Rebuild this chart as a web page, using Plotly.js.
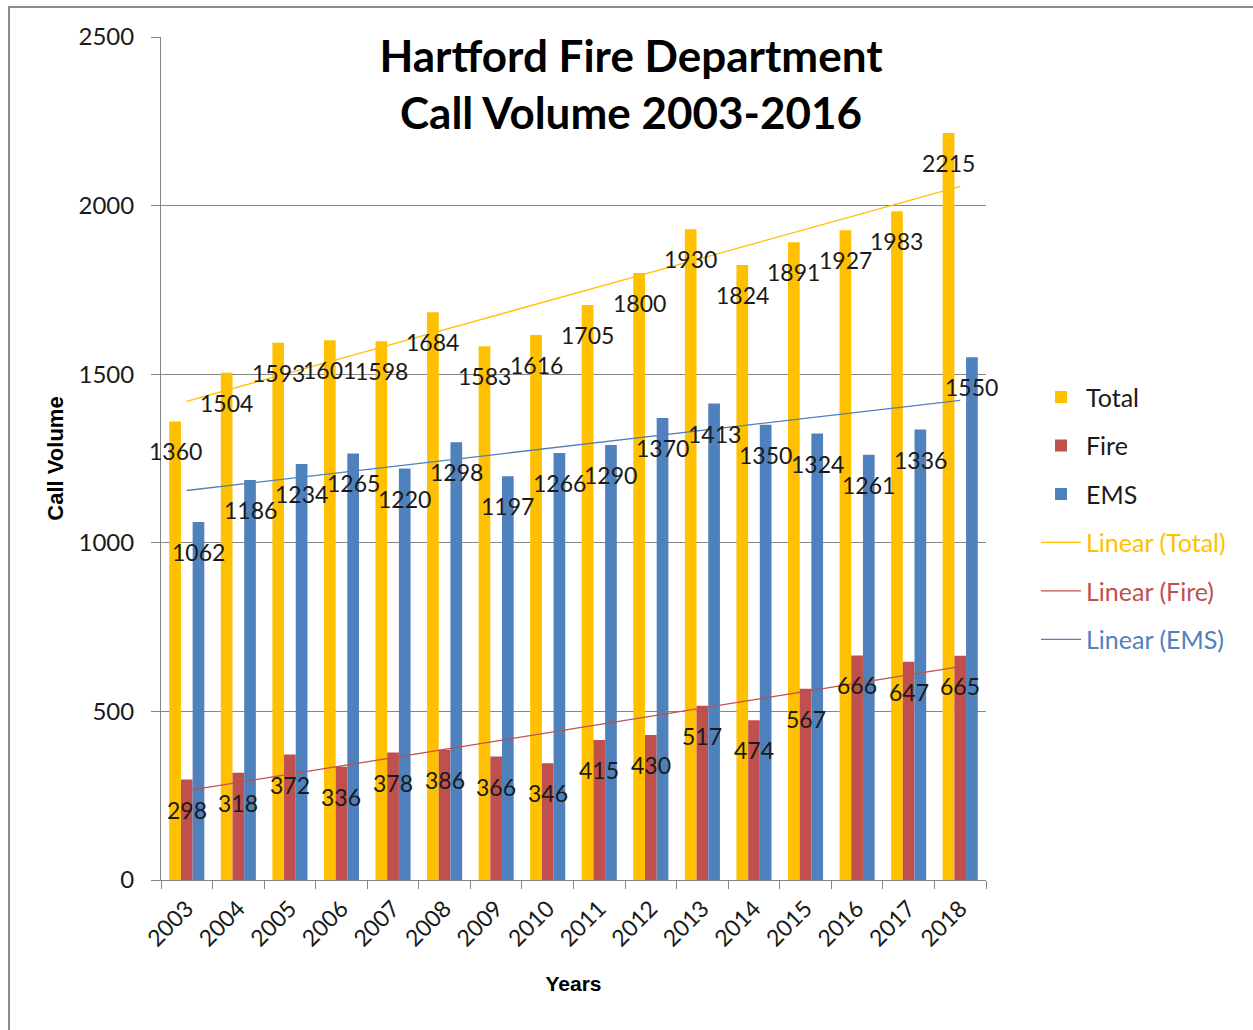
<!DOCTYPE html>
<html>
<head>
<meta charset="utf-8">
<script src="https://cdn.plot.ly/plotly-3.0.1.min.js"></script>
<style>
  html, body { margin: 0; padding: 0; background: #ffffff; overflow: hidden; width: 1253px; height: 1030px; }
  #frame { position: absolute; left: 8px; top: 6px; width: 1300px; height: 1100px; border: 2px solid #8c8c8c; box-sizing: border-box; }
  #chart { position: absolute; left: 0; top: 0; width: 1253px; height: 1030px; }
</style>
</head>
<body>
<div id="frame"></div>
<div id="chart"></div>
<script>
const years = ['2003','2004','2005','2006','2007','2008','2009','2010','2011','2012','2013','2014','2015','2016','2017','2018'];
const totalCalls = [1360,1504,1593,1601,1598,1684,1583,1616,1705,1800,1930,1824,1891,1927,1983,2215];
const fireCalls  = [298,318,372,336,378,386,366,346,415,430,517,474,567,666,647,665];
const emsCalls   = [1062,1186,1234,1265,1220,1298,1197,1266,1290,1370,1413,1350,1324,1261,1336,1550];
const yTicks = [0,500,1000,1500,2000,2500];

const cTotal = '#FFC000', cFire = '#C0504D', cEms = '#4F81BD';
const FONT = 'Lato, "Open Sans", sans-serif';

// least-squares linear trend (like Excel's "Linear" trendline)
function linearTrend(vals) {
  const n = vals.length;
  const mx = (n - 1) / 2;
  const my = vals.reduce((a, b) => a + b, 0) / n;
  let sxy = 0, sxx = 0;
  vals.forEach((v, i) => { sxy += (i - mx) * (v - my); sxx += (i - mx) * (i - mx); });
  const slope = sxy / sxx;
  return vals.map((v, i) => my + slope * (i - mx));
}

const bargap = 0.32;
const barW = (1 - bargap) / 3;

const series = [
  {name: 'Total', vals: totalCalls, color: cTotal, off: -barW},
  {name: 'Fire',  vals: fireCalls,  color: cFire,  off: 0},
  {name: 'EMS',   vals: emsCalls,   color: cEms,   off: barW}
];

const data = [];
series.forEach((s, k) => {
  data.push({
    type: 'bar', x: years, y: s.vals, name: s.name,
    marker: {color: s.color}, legendgroup: 'g' + k, hoverinfo: 'x+y+name'
  });
});
series.forEach((s, k) => {
  data.push({
    type: 'scatter', mode: 'lines', x: years, y: linearTrend(s.vals),
    name: '<span style="color:' + s.color + '">Linear (' + s.name + ')</span>',
    line: {color: s.color, width: 1.3}, legendgroup: 'g' + (k + 3), hoverinfo: 'skip'
  });
});

const annotations = [];
series.forEach(s => {
  s.vals.forEach((v, i) => {
    annotations.push({
      x: i + s.off, y: v, xref: 'x', yref: 'y', text: String(v),
      showarrow: false, xanchor: 'center', yanchor: 'middle', yshift: -30,
      font: {family: FONT, size: 23, color: '#1a1a1a'}
    });
  });
});

const layout = {
  width: 1253, height: 1030,
  margin: {l: 161, r: 267, t: 37, b: 150},
  paper_bgcolor: 'rgba(0,0,0,0)', plot_bgcolor: 'rgba(0,0,0,0)',
  font: {family: FONT, color: '#1a1a1a'},
  barmode: 'group', bargap: bargap, bargroupgap: 0,
  title: {
    text: '<b>Hartford Fire Department<br>Call Volume 2003-2016</b>',
    font: {family: FONT, size: 44, color: '#000'},
    x: 631 / 1253, xref: 'container', xanchor: 'center',
    y: 1 - 72 / 1030, yref: 'container', yanchor: 'top'
  },
  xaxis: {
    type: 'category', range: [-0.5, 15.5], autorange: false,
    tickson: 'boundaries', ticks: 'outside', ticklen: 8, tickcolor: '#868686',
    showline: true, linecolor: '#868686', linewidth: 1, showgrid: false, zeroline: false,
    tickangle: -45, tickfont: {family: FONT, size: 23, color: '#1a1a1a'}, ticklabelstandoff: 5,
    title: {text: '<b>Years</b>', font: {family: '"Liberation Sans", Arial, sans-serif', size: 21, color: '#000'}, standoff: 25},
    fixedrange: true
  },
  yaxis: {
    range: [0, 2500], autorange: false, tickvals: yTicks, ticks: 'outside', ticklen: 9, tickcolor: '#868686',
    showline: true, linecolor: '#868686', linewidth: 1,
    showgrid: true, gridcolor: '#868686', gridwidth: 1, zeroline: false,
    tickfont: {family: FONT, size: 24, color: '#1a1a1a'}, ticklabelstandoff: 12,
    title: {text: '<b>Call Volume</b>', font: {family: '"Liberation Sans", Arial, sans-serif', size: 22, color: '#000'}, standoff: 8},
    fixedrange: true
  },
  showlegend: true,
  legend: {
    x: (1036 - 161) / 825, xanchor: 'left', y: 0.60, yanchor: 'top',
    font: {family: FONT, size: 25, color: '#1a1a1a'},
    traceorder: 'grouped', tracegroupgap: 13, itemwidth: 40,
    bgcolor: 'rgba(0,0,0,0)'
  },
  annotations: annotations
};

Plotly.newPlot('chart', data, layout, {displayModeBar: false, staticPlot: true});
</script>
</body>
</html>
